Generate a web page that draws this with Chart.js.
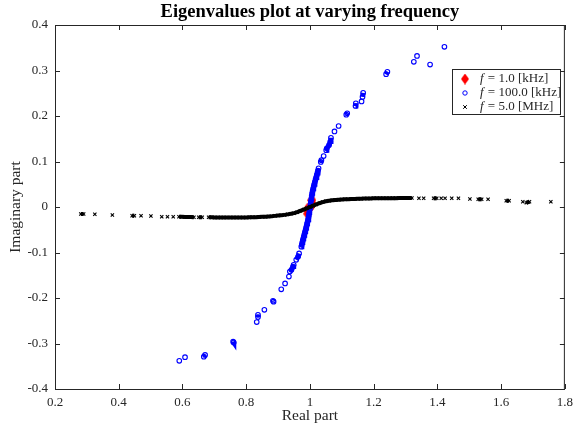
<!DOCTYPE html>
<html>
<head>
<meta charset="utf-8">
<script src="https://cdn.jsdelivr.net/npm/chart.js@4.4.1/dist/chart.umd.min.js"></script>
<style>
  body { margin: 0; background: #fff; }
  #wrap { width: 579px; height: 425px; }
</style>
</head>
<body>
<div id="wrap"><canvas id="grafico" width="579" height="425"></canvas></div>
<script>
// ticks
var X_TICKS = [0.2, 0.4, 0.6, 0.8, 1.0, 1.2, 1.4, 1.6, 1.8];
var X_LABELS = ["0.2", "0.4", "0.6", "0.8", "1", "1.2", "1.4", "1.6", "1.8"];
var Y_TICKS = [-0.4, -0.3, -0.2, -0.1, 0, 0.1, 0.2, 0.3, 0.4];
var Y_LABELS = ["-0.4", "-0.3", "-0.2", "-0.1", "0", "0.1", "0.2", "0.3", "0.4"];

var TITULO = "Eigenvalues plot at varying frequency";
var SERIES_LABELS = ["1.0 [kHz]", "100.0 [kHz]", "5.0 [MHz]"];

// f = 1.0 kHz
var RE_1K = [0.993, 0.991, 1.000, 1.008, 1.006];
var IM_1K = [-0.015, -0.006, 0.000, 0.006, 0.015];

// f = 100.0 kHz
var RE_100K = [
  0.590, 0.608, 0.667, 0.671, 0.759, 0.761, 0.833, 0.837, 0.837, 0.857, 0.884, 0.886,
  0.910, 0.922, 0.934, 0.937, 0.942, 0.947, 0.949, 0.957, 0.963, 0.966,
  0.9729, 0.9745, 0.9760, 0.9775, 0.9790, 0.9805, 0.9820, 0.9835, 0.9850, 0.9865, 0.9880, 0.9895,
  0.9910, 0.9925, 0.9940, 0.9955, 0.9968, 0.9980, 0.9992, 1.0005, 1.0017, 1.0030, 1.0043, 1.0055,
  1.0070, 1.0085, 1.0100, 1.0118, 1.0135, 1.0155, 1.0175, 1.0195, 1.0215, 1.0235, 1.0252, 1.0271,
  1.034, 1.036, 1.043, 1.051, 1.053, 1.060, 1.064, 1.066, 1.077, 1.090, 1.114, 1.117,
  1.143, 1.144, 1.162, 1.165, 1.167, 1.239, 1.243, 1.326, 1.336, 1.377, 1.422
];
var IM_100K = [
  -0.338, -0.330, -0.329, -0.325, -0.296, -0.298, -0.253, -0.242, -0.237, -0.226, -0.206, -0.208,
  -0.181, -0.168, -0.153, -0.142, -0.138, -0.131, -0.127, -0.116, -0.109, -0.102,
  -0.0873, -0.083, -0.078, -0.074, -0.070, -0.066, -0.062, -0.058, -0.054, -0.050, -0.046, -0.042,
  -0.037, -0.033, -0.028, -0.023, -0.018, -0.012, -0.006, 0.000, 0.006, 0.012, 0.018, 0.024,
  0.030, 0.035, 0.040, 0.045, 0.050, 0.055, 0.060, 0.065, 0.070, 0.075, 0.080, 0.085,
  0.099, 0.103, 0.112, 0.125, 0.129, 0.136, 0.144, 0.152, 0.166, 0.178, 0.203, 0.206,
  0.222, 0.228, 0.232, 0.242, 0.251, 0.292, 0.297, 0.319, 0.332, 0.313, 0.352
];

// f = 5.0 MHz
var RE_5M = [
  0.281, 0.290, 0.325, 0.380, 0.442, 0.449, 0.470, 0.501, 0.535, 0.553, 0.571, 0.589, 0.598,
  0.608, 0.617, 0.626, 0.636, 0.651, 0.662, 0.682, 0.692, 0.701, 0.711, 0.720, 0.729, 0.739,
  0.75, 0.76, 0.77, 0.78, 0.79, 0.80, 0.81, 0.82, 0.83, 0.84, 0.85, 0.86, 0.87, 0.88, 0.89,
  0.90, 0.91, 0.92, 0.93, 0.94, 0.95, 0.96, 0.97, 0.98, 0.99, 1.00, 1.01, 1.02, 1.03, 1.04,
  1.05, 1.06, 1.07, 1.08, 1.09, 1.10, 1.11, 1.12, 1.13, 1.14, 1.15, 1.16, 1.17, 1.18, 1.19,
  1.20, 1.21, 1.22, 1.23, 1.24, 1.25, 1.26, 1.27, 1.28, 1.29, 1.30, 1.31, 1.32,
  1.342, 1.357, 1.388, 1.398, 1.412, 1.424, 1.445, 1.466, 1.502, 1.528, 1.539, 1.559,
  1.616, 1.625, 1.668, 1.679, 1.689, 1.756
];
var IM_5M = [
  -0.0154, -0.0154, -0.0160, -0.0176, -0.0191, -0.0191, -0.0191, -0.0198, -0.0213, -0.0213, -0.0213, -0.0215, -0.0216,
  -0.0218, -0.0219, -0.0220, -0.0224, -0.0225, -0.0226, -0.0227, -0.0228, -0.0229, -0.0229, -0.0230, -0.0230, -0.0231,
  -0.0231, -0.0231, -0.0231, -0.0231, -0.0230, -0.0229, -0.0228, -0.0226, -0.0223, -0.0220, -0.0216, -0.0212, -0.0207, -0.0202, -0.0195,
  -0.0188, -0.0181, -0.0173, -0.0162, -0.0150, -0.0135, -0.0113, -0.0084, -0.0056, -0.0028, 0.0000, 0.0028, 0.0056, 0.0084, 0.0108,
  0.0126, 0.0139, 0.0148, 0.0155, 0.0160, 0.0165, 0.0169, 0.0172, 0.0175, 0.0178, 0.0181, 0.0183, 0.0185, 0.0187, 0.0189,
  0.0190, 0.0191, 0.0192, 0.0193, 0.0193, 0.0194, 0.0195, 0.0195, 0.0196, 0.0196, 0.0197, 0.0197, 0.0198,
  0.0191, 0.0191, 0.0191, 0.0191, 0.0191, 0.0191, 0.0191, 0.0191, 0.0176, 0.0169, 0.0169, 0.0169,
  0.0138, 0.0138, 0.0116, 0.0095, 0.0116, 0.0116
];

var SERIF = "'Liberation Serif', 'Times New Roman', serif";
var TXT = "#262626";

function pares(re, im) {
  return re.map(function (x, i) { return { x: x, y: im[i] }; });
}

// diamante vermelho (mais alto que largo, como no MATLAB)
function diamante(w, h) {
  var c = document.createElement("canvas");
  c.width = w; c.height = h;
  var g = c.getContext("2d");
  g.fillStyle = "#ff0000";
  g.beginPath();
  g.moveTo(w / 2, 0); g.lineTo(w, h / 2); g.lineTo(w / 2, h); g.lineTo(0, h / 2);
  g.closePath(); g.fill();
  return c;
}
var imgDiamante = diamante(8, 11);
var imgDiamantePlot = diamante(9, 13);

// liga só os pontos muito próximos (zona densa)
function segCor(cor, lim) {
  return function (ctx) {
    var d = Math.hypot(ctx.p1.x - ctx.p0.x, ctx.p1.y - ctx.p0.y);
    return d < lim ? cor : "rgba(0,0,0,0)";
  };
}

var eixos = {
  id: "eixos",
  afterDatasetsDraw: function (chart) {
    var a = chart.chartArea, ctx = chart.ctx;
    var sx = chart.scales.x, sy = chart.scales.y;
    ctx.save();
    ctx.strokeStyle = TXT;
    ctx.lineWidth = 1;
    ctx.beginPath();
    X_TICKS.forEach(function (v) {
      var px = Math.round(sx.getPixelForValue(v)) + 0.5;
      ctx.moveTo(px, a.bottom); ctx.lineTo(px, a.bottom - 5);
      ctx.moveTo(px, a.top); ctx.lineTo(px, a.top + 5);
    });
    Y_TICKS.forEach(function (v) {
      var py = Math.round(sy.getPixelForValue(v)) + 0.5;
      ctx.moveTo(a.left, py); ctx.lineTo(a.left + 5, py);
      ctx.moveTo(a.right, py); ctx.lineTo(a.right - 5, py);
    });
    ctx.stroke();
    ctx.strokeRect(a.left + 0.5, a.top + 0.5, a.right - a.left - 1, a.bottom - a.top);
    ctx.restore();
  },
  afterDraw: function (chart) {
    var ctx = chart.ctx, a = chart.chartArea;
    ctx.save();
    // título centrado na área do gráfico
    ctx.fillStyle = "#000";
    ctx.font = "bold 18.5px " + SERIF;
    ctx.textAlign = "center";
    ctx.textBaseline = "middle";
    ctx.fillText(TITULO, (a.left + a.right) / 2, 12.5);
    ctx.textAlign = "left";

    // legenda
    var bx = 452, by = 69, bw = 108, bh = 45;
    ctx.fillStyle = "#fff";
    ctx.fillRect(bx, by, bw, bh);
    ctx.strokeStyle = TXT;
    ctx.lineWidth = 1;
    ctx.strokeRect(bx + 0.5, by + 0.5, bw, bh);
    var linhas = [79, 93, 107];
    var mx = 465, tx = 480;
    ctx.drawImage(imgDiamante, mx - 4, linhas[0] - 5.5);
    ctx.strokeStyle = "#0000ff";
    ctx.beginPath(); ctx.arc(mx, linhas[1], 2.2, 0, Math.PI * 2); ctx.stroke();
    ctx.strokeStyle = "#000";
    ctx.beginPath();
    ctx.moveTo(mx - 1.8, linhas[2] - 1.8); ctx.lineTo(mx + 1.8, linhas[2] + 1.8);
    ctx.moveTo(mx - 1.8, linhas[2] + 1.8); ctx.lineTo(mx + 1.8, linhas[2] - 1.8);
    ctx.stroke();
    ctx.fillStyle = TXT;
    SERIES_LABELS.forEach(function (s, i) {
      ctx.font = "italic 13px " + SERIF;
      ctx.fillText("f", tx, linhas[i]);
      var w = ctx.measureText("f").width;
      ctx.font = "13px " + SERIF;
      ctx.fillText(" = " + s, tx + w + 1, linhas[i]);
    });
    ctx.restore();
  }
};

new Chart(document.getElementById("grafico"), {
  type: "scatter",
  data: {
    datasets: [
      {
        label: "f = " + SERIES_LABELS[0],
        data: pares(RE_1K, IM_1K),
        pointStyle: imgDiamantePlot,
        pointRadius: 5,
        order: 3
      },
      {
        label: "f = " + SERIES_LABELS[1],
        data: pares(RE_100K, IM_100K),
        showLine: true,
        borderWidth: 5,
        borderColor: "#0000ff",
        segment: { borderColor: segCor("#0000ff", 4.6) },
        pointStyle: "circle",
        pointRadius: 2.3,
        pointBorderWidth: 1.1,
        pointBorderColor: "#0000ff",
        pointBackgroundColor: "rgba(0,0,0,0)",
        order: 2
      },
      {
        label: "f = " + SERIES_LABELS[2],
        data: pares(RE_5M, IM_5M),
        showLine: true,
        borderWidth: 4,
        borderColor: "#000",
        segment: { borderColor: segCor("#000", 3.6) },
        pointStyle: "crossRot",
        pointRadius: 2.3,
        pointBorderWidth: 1.1,
        pointBorderColor: "#000",
        order: 1
      }
    ]
  },
  options: {
    responsive: false,
    animation: false,
    devicePixelRatio: 1,
    layout: { padding: { left: 0, right: 10, top: 25, bottom: 0 } },
    plugins: {
      legend: { display: false },
      tooltip: { enabled: false },
      title: { display: false }
    },
    scales: {
      x: {
        type: "linear",
        min: 0.2,
        max: 1.8,
        afterBuildTicks: function (s) { s.ticks = X_TICKS.map(function (v) { return { value: v }; }); },
        afterFit: function (s) { s.height = 36; },
        grid: { display: false, drawTicks: false },
        border: { display: false },
        ticks: {
          color: TXT,
          padding: 6,
          maxRotation: 0,
          autoSkip: false,
          font: { family: SERIF, size: 13 },
          callback: function (v, i) { return X_LABELS[i]; }
        },
        title: {
          display: true,
          text: "Real part",
          color: TXT,
          font: { family: SERIF, size: 15.5 },
          padding: 0
        }
      },
      y: {
        type: "linear",
        min: -0.4,
        max: 0.4,
        afterBuildTicks: function (s) { s.ticks = Y_TICKS.map(function (v) { return { value: v }; }); },
        afterFit: function (s) { s.width = 55; },
        grid: { display: false, drawTicks: false },
        border: { display: false },
        ticks: {
          color: TXT,
          padding: 7,
          autoSkip: false,
          font: { family: SERIF, size: 13 },
          callback: function (v, i) { return Y_LABELS[i]; }
        },
        title: {
          display: true,
          text: "Imaginary part",
          color: TXT,
          font: { family: SERIF, size: 15.5 },
          padding: 7
        }
      }
    }
  },
  plugins: [eixos]
});
</script>
</body>
</html>
